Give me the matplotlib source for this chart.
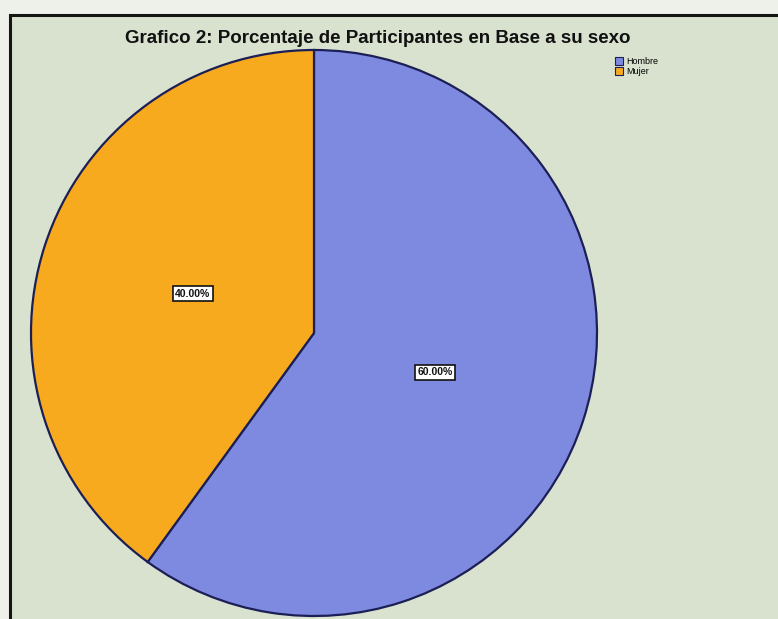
import matplotlib.pyplot as plt
from matplotlib.patches import Rectangle

categorias = ["Hombre", "Mujer"]
porcentajes = [60.0, 40.0]
colores = ["#7d8ae0", "#f7aa1e"]

plt.rcParams['font.family'] = ['Liberation Sans', 'DejaVu Sans']

fig = plt.figure(figsize=(7.78, 6.19), dpi=100)
fig.patch.set_facecolor("#eef0ea")

ax = fig.add_axes([0, 0, 1, 1])
ax.patch.set_alpha(0)

wedges, textos, autotextos = ax.pie(
    porcentajes, colors=colores, startangle=90, counterclock=False,
    center=(314, 286), radius=283, autopct="%.2f%%", pctdistance=0.45,
    wedgeprops=dict(edgecolor="#1c1f55", linewidth=1.6),
    textprops=dict(fontsize=7.5, fontweight="bold", color="#111111"))
for t in autotextos:
    t.set_bbox(dict(boxstyle="square,pad=0.25", facecolor="white",
                    edgecolor="#111111", linewidth=1.2))

# pie() cambia los limites, se fijan despues
ax.set_xlim(0, 778)
ax.set_ylim(0, 619)
ax.set_aspect("equal")
ax.axis("off")

# marco del grafico
ax.add_patch(Rectangle((10, -20), 800, 624, facecolor="#d9e2cf",
                       edgecolor="#151515", linewidth=2.2, zorder=0))

fig.text(0.486, 0.937, "Grafico 2: Porcentaje de Participantes en Base a su sexo",
         ha="center", va="center", fontsize=13.5, fontweight="bold", color="#111111")

leg = ax.legend(wedges, categorias, loc="upper left", bbox_to_anchor=(0.785, 0.915),
                bbox_transform=fig.transFigure, frameon=False, fontsize=6.5,
                handlelength=0.9, handleheight=0.9, handletextpad=0.3,
                labelspacing=0.1, borderpad=0)
for h in leg.legend_handles:
    h.set_linewidth(0.8)

fig.savefig("out.png", dpi=100, facecolor=fig.get_facecolor())
